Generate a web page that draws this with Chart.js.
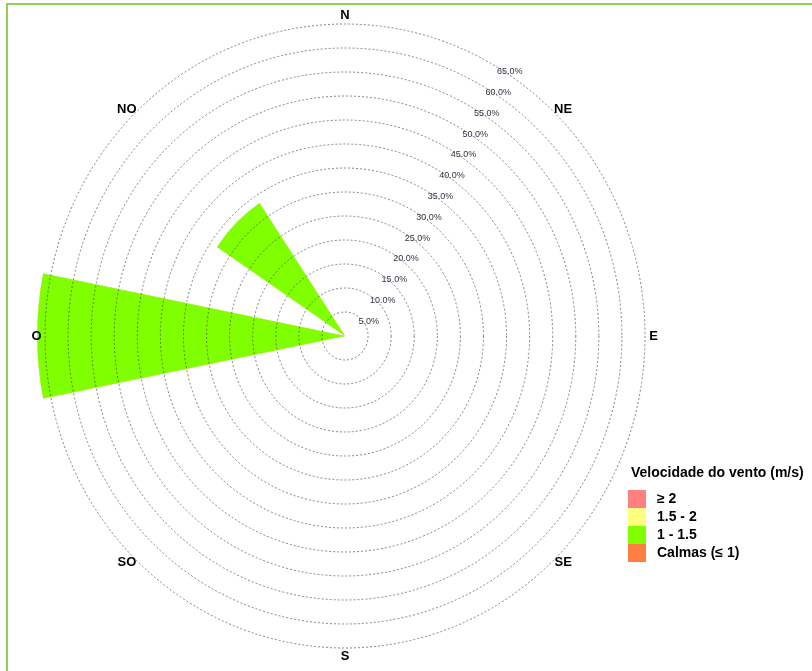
<!DOCTYPE html>
<html>
<head>
<meta charset="utf-8">
<title>Rosa dos ventos</title>
<script src="https://cdn.jsdelivr.net/npm/chart.js@4"></script>
<style>
  html, body { margin: 0; padding: 0; background: #ffffff; }
  #wrap { position: relative; width: 812px; height: 671px; overflow: hidden; background: #ffffff; }
  #frame { position: absolute; left: 6px; top: 3px; width: 900px; height: 900px; border: 2px solid #90cf58; box-sizing: border-box; }
  #rose { position: absolute; left: 0; top: 0; }
</style>
</head>
<body>
<div id="wrap">
  <div id="frame"></div>
  <canvas id="rose" width="812" height="671"></canvas>
</div>
<script>
// 16 wind sectors, clockwise from north
const directions = ['N', 'NNE', 'NE', 'ENE', 'E', 'ESE', 'SE', 'SSE',
                    'S', 'SSO', 'SO', 'OSO', 'O', 'ONO', 'NO', 'NNO'];
const compassLabels = ['N', 'NE', 'E', 'SE', 'S', 'SO', 'O', 'NO'];

// speed classes shown in the legend
const legendTitle = 'Velocidade do vento (m/s)';
const speedBins = ['≥ 2', '1.5 - 2', '1 - 1.5', 'Calmas (≤ 1)'];
const binColors = ['#ff8080', '#ffff80', '#80ff00', '#ff7f40'];

// frequency (%) per sector for each speed class
const freqGe2    = [0, 0, 0, 0, 0, 0, 0, 0, 0, 0, 0, 0, 0, 0, 0, 0];
const freq15to2  = [0, 0, 0, 0, 0, 0, 0, 0, 0, 0, 0, 0, 0, 0, 0, 0];
const freq1to15  = [0, 0, 0, 0, 0, 0, 0, 0, 0, 0, 0, 0, 66.67, 0, 33.33, 0];

// radial rings (%)
const ringTicks = [5, 10, 15, 20, 25, 30, 35, 40, 45, 50, 55, 60, 65];

// stacked petals: each class sits on top of the slower ones
const cum1 = freq1to15.map(v => v);
const cum2 = cum1.map((v, i) => v + freq15to2[i]);
const cum3 = cum2.map((v, i) => v + freqGe2[i]);

const Y_STRETCH = 1.04;
const FONT = '"Liberation Sans", Arial, Helvetica, sans-serif';

const rosePlugin = {
  id: 'rosePlugin',
  beforeDraw(chart) {
    const s = chart.scales.r;
    const ctx = chart.ctx;
    ctx.save();
    ctx.translate(s.xCenter, s.yCenter);
    ctx.scale(1, Y_STRETCH);
    ctx.translate(-s.xCenter, -s.yCenter);
  },
  afterDraw(chart) {
    const ctx = chart.ctx;
    ctx.restore();
    const s = chart.scales.r;
    const cx = s.xCenter, cy = s.yCenter;

    // ring percentage labels along a 30° ray
    ctx.save();
    ctx.font = '9px ' + FONT;
    ctx.fillStyle = '#333344';
    ctx.textAlign = 'left';
    ctx.textBaseline = 'middle';
    const a = 30 * Math.PI / 180;
    ringTicks.forEach(v => {
      const r = s.getDistanceFromCenterForValue(v);
      const x = cx + r * Math.sin(a);
      const y = cy - r * Math.cos(a) * Y_STRETCH;
      ctx.fillText(v.toFixed(1) + '%', x + 2, y + 6);
    });
    ctx.restore();

    // compass labels outside the last ring
    ctx.save();
    ctx.font = 'bold 13px ' + FONT;
    ctx.fillStyle = '#000000';
    ctx.textAlign = 'center';
    ctx.textBaseline = 'middle';
    const R = s.getDistanceFromCenterForValue(ringTicks[ringTicks.length - 1]) + 8.5;
    compassLabels.forEach((lab, i) => {
      const ang = i * 45 * Math.PI / 180;
      ctx.fillText(lab, cx + R * Math.sin(ang), cy - R * Math.cos(ang) * Y_STRETCH);
    });
    ctx.restore();

    // legend
    ctx.save();
    ctx.font = 'bold 14px ' + FONT;
    ctx.fillStyle = '#000000';
    ctx.textAlign = 'left';
    ctx.textBaseline = 'middle';
    ctx.fillText(legendTitle, 631, 473);
    speedBins.forEach((lab, i) => {
      const top = 490 + i * 18;
      ctx.fillStyle = binColors[i];
      ctx.fillRect(628, top, 18, 18);
      ctx.fillStyle = '#000000';
      ctx.fillText(lab, 657, top + 9);
    });
    ctx.restore();
  }
};

new Chart(document.getElementById('rose'), {
  type: 'polarArea',
  data: {
    labels: directions,
    datasets: [
      { label: speedBins[2], data: cum1, backgroundColor: binColors[2], borderWidth: 0, clip: false },
      { label: speedBins[1], data: cum2, backgroundColor: binColors[1], borderWidth: 0, clip: false },
      { label: speedBins[0], data: cum3, backgroundColor: binColors[0], borderWidth: 0, clip: false }
    ]
  },
  options: {
    responsive: false,
    animation: false,
    layout: { padding: { left: 45, right: 167, top: 36, bottom: 35 } },
    plugins: {
      legend: { display: false },
      tooltip: { enabled: false },
      title: { display: false }
    },
    scales: {
      r: {
        startAngle: -11.25,
        min: 0,
        max: 65,
        ticks: { display: false, stepSize: 5, z: 1 },
        grid: { circular: true, color: 'rgba(70,70,70,0.8)', lineWidth: 0.8, borderDash: [2, 2], z: 1 },
        border: { dash: [2, 2] },
        angleLines: { display: false },
        pointLabels: { display: false }
      }
    }
  },
  plugins: [rosePlugin]
});
</script>
</body>
</html>
